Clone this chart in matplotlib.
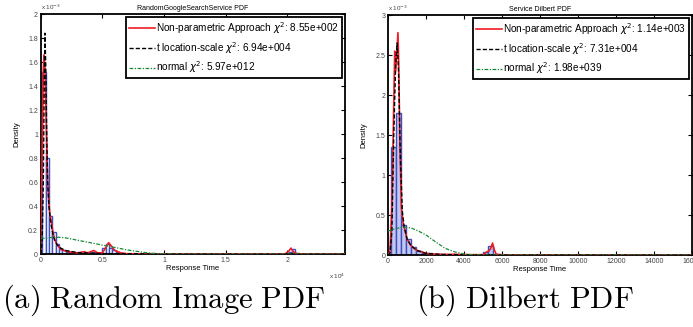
import matplotlib
matplotlib.use('Agg')
import matplotlib.pyplot as plt
from matplotlib.font_manager import FontProperties

plt.rcParams['font.family'] = ['Liberation Sans', 'DejaVu Sans']
plt.rcParams['mathtext.fontset'] = 'dejavusans'

# histogram bins: first edge and width, heights in units of 1e-3
hist_a_start = -140
hist_a_width = 270
hist_a = [0.61, 1.52, 0.80, 0.32, 0.18, 0.08, 0.045, 0.03, 0.02, 0.015,
          0.01, 0.008, 0.006, 0.01, 0.005, 0.01, 0.02, 0.01, 0.005, 0.05,
          0.08, 0.05, 0.03, 0.015, 0.005, 0.0, 0.0, 0.0, 0.0, 0.0,
          0.0, 0.0, 0.0, 0.0, 0.0, 0.0, 0.0, 0.0, 0.0, 0.0,
          0.0, 0.0, 0.0, 0.0, 0.0, 0.0, 0.0, 0.0, 0.0, 0.0,
          0.0, 0.0, 0.0, 0.0, 0.0, 0.0, 0.0, 0.0, 0.0, 0.0,
          0.0, 0.0, 0.0, 0.0, 0.0, 0.0, 0.0, 0.0, 0.0, 0.0,
          0.0, 0.0, 0.0, 0.0, 0.0, 0.02, 0.04, 0.01, 0.0, 0.0,
          0.0, 0.0, 0.0, 0.0, 0.0, 0.0, 0.0, 0.0, 0.0, 0.0,
          0.0, 0.0, 0.0]

# non-parametric (kde) curve, panel a
kde_a_x = [0, 60, 130, 200, 260, 330, 400, 480, 560, 650, 750, 850, 950, 1100,
           1300, 1600, 2000, 2500, 3000, 3500, 3800, 4300, 4600, 5000, 5300,
           5500, 5700, 6000, 6500, 7000, 10000, 19800, 20100, 20300, 20500,
           20800, 24700]
kde_a_y = [0, 0.5, 1.1, 1.55, 1.66, 1.55, 1.25, 0.9, 0.6, 0.42, 0.32, 0.27, 0.2,
           0.13, 0.08, 0.04, 0.025, 0.015, 0.01, 0.02, 0.01, 0.03, 0.01, 0.01,
           0.06, 0.095, 0.07, 0.03, 0.01, 0.003, 0.002, 0.002, 0.02, 0.05,
           0.02, 0.002, 0.001]

# t location-scale fit, panel a
tls_a_x = [0, 100, 200, 270, 330, 400, 470, 550, 650, 750, 900, 1100, 1300,
           1600, 2000, 3000, 5000, 10000, 24700]
tls_a_y = [0, 0.1, 0.6, 1.4, 1.84, 1.55, 1.0, 0.6, 0.4, 0.3, 0.2, 0.12, 0.08,
           0.05, 0.03, 0.012, 0.004, 0.001, 0]

# normal fit, panel a
norm_a_x = [0, 500, 1000, 1500, 2000, 2500, 3000, 3500, 4000, 4500, 5000, 5500,
            6000, 6500, 7000, 7500, 8000, 8500, 9000, 9500, 10000, 11000, 24700]
norm_a_y = [0.13, 0.135, 0.14, 0.14, 0.135, 0.125, 0.115, 0.105, 0.095, 0.085,
            0.075, 0.065, 0.055, 0.045, 0.035, 0.027, 0.02, 0.012, 0.007, 0.004,
            0.002, 0, 0]

hist_b_start = 140
hist_b_width = 270
hist_b = [1.35, 1.78, 0.37, 0.20, 0.10, 0.05, 0.03, 0.02, 0.015, 0.01,
          0.008, 0.006, 0.005, 0.005, 0.003, 0.002, 0.002, 0.002, 0.04, 0.11,
          0.01, 0.0, 0.0, 0.0, 0.0, 0.0, 0.0, 0.0, 0.0, 0.0,
          0.0, 0.0, 0.0, 0.0, 0.0, 0.0, 0.0, 0.0, 0.0, 0.0,
          0.0, 0.0, 0.0, 0.0, 0.0, 0.0, 0.0, 0.0, 0.0, 0.0,
          0.0, 0.0, 0.0, 0.0, 0.0, 0.0, 0.0, 0.0, 0.0]

kde_b_x = [0, 100, 200, 300, 350, 400, 450, 520, 560, 620, 700, 800, 900, 1000,
           1200, 1500, 2000, 2500, 3000, 3500, 4000, 5000, 5200, 5300, 5400,
           5500, 5600, 5700, 6000, 8000, 16000]
kde_b_y = [0, 0.05, 0.6, 1.9, 2.55, 2.3, 2.5, 2.78, 2.4, 1.4, 0.6, 0.38, 0.3,
           0.2, 0.12, 0.06, 0.02, 0.01, 0.008, 0.01, 0.005, 0.005, 0.04, 0.05,
           0.08, 0.15, 0.06, 0.01, 0.003, 0.002, 0]

tls_b_x = [0, 100, 200, 300, 400, 480, 550, 650, 750, 850, 1000, 1200, 1500,
           2000, 3000, 5000, 16000]
tls_b_y = [0, 0.02, 0.3, 1.5, 2.4, 2.65, 2.3, 1.2, 0.55, 0.35, 0.2, 0.12, 0.06,
           0.02, 0.005, 0.001, 0]

norm_b_x = [0, 400, 800, 1200, 1600, 2000, 2500, 3000, 3500, 4000, 4500, 5000,
            16000]
norm_b_y = [0.3, 0.33, 0.35, 0.34, 0.3, 0.25, 0.165, 0.085, 0.04, 0.012, 0.003,
            0, 0]

chi_a = ['8.55e+002', '6.94e+004', '5.97e+012']
chi_b = ['1.14e+003', '7.31e+004', '1.98e+039']


def panel(ax, start, width, heights, face, kde, tls, norm, chis, title):
    lefts = [start + i * width for i in range(len(heights))]
    ax.bar(lefts, heights, width=width, align='edge', color=face,
           edgecolor='#3d4fbf', linewidth=1.0, zorder=2)
    names = ['Non-parametric Approach', 't location-scale', 'normal']
    ax.plot(kde[0], kde[1], color='#ee1c24', lw=1.2, zorder=3,
            label=names[0] + r' $\chi^2$: ' + chis[0])
    ax.plot(tls[0], tls[1], color='black', lw=1.0, ls=(0, (3, 1.5)), zorder=4,
            label=names[1] + r' $\chi^2$: ' + chis[1])
    ax.plot(norm[0], norm[1], color='#1a8a3a', lw=0.9, ls=(0, (3, 1.2, 1, 1.2)),
            zorder=4, label=names[2] + r' $\chi^2$: ' + chis[2])
    ax.set_title(title, fontsize=5, pad=3)
    ax.set_ylabel('Density', fontsize=5.5, labelpad=6)
    ax.set_xlabel('Response Time', fontsize=5.5, labelpad=1)
    ax.tick_params(direction='in', top=True, right=True, labelsize=5,
                   length=3, width=0.8, pad=2, colors='black', labelcolor='#444444')
    for s in ax.spines.values():
        s.set_linewidth(1.3)
    ax.text(0, 1.008, r'x 10$^{-3}$', transform=ax.transAxes, fontsize=4.5,
            color='#444444', va='bottom')
    leg = ax.legend(loc='upper right', fancybox=False, framealpha=1,
                    prop=FontProperties(family=['Liberation Sans', 'DejaVu Sans'],
                                        size=7.2),
                    borderaxespad=0.3, handlelength=2.6, handletextpad=0.1,
                    labelspacing=0.4, borderpad=0.3)
    leg.get_frame().set_edgecolor('black')
    leg.get_frame().set_linewidth(1.3)


fig = plt.figure(figsize=(6.93, 3.27), dpi=100)
ax1 = fig.add_axes([0.059, 0.223, 0.439, 0.734])
ax2 = fig.add_axes([0.560, 0.220, 0.4385, 0.734])

panel(ax1, hist_a_start, hist_a_width, hist_a, 'white',
      (kde_a_x, kde_a_y), (tls_a_x, tls_a_y), (norm_a_x, norm_a_y), chi_a,
      'RandomGoogleSearchService PDF')
ax1.set_xlim(0, 24700)
ax1.set_ylim(0, 2)
ax1.set_xticks([0, 5000, 10000, 15000, 20000])
ax1.set_xticklabels(['0', '0.5', '1', '1.5', '2'])
ax1.set_yticks([0, 0.2, 0.4, 0.6, 0.8, 1, 1.2, 1.4, 1.6, 1.8, 2])
ax1.set_yticklabels(['0', '0.2', '0.4', '0.6', '0.8', '1', '1.2', '1.4', '1.6', '1.8', '2'])
ax1.text(1.0, -0.075, r'x 10$^4$', transform=ax1.transAxes, fontsize=4.5,
         color='#444444', ha='right', va='top')

panel(ax2, hist_b_start, hist_b_width, hist_b, '#c3c7ef',
      (kde_b_x, kde_b_y), (tls_b_x, tls_b_y), (norm_b_x, norm_b_y), chi_b,
      'Service Dilbert PDF')
ax2.set_xlim(0, 16000)
ax2.set_ylim(0, 3)
ax2.set_xticks(range(0, 16001, 2000))
ax2.set_yticks([0, 0.5, 1, 1.5, 2, 2.5, 3])
ax2.set_yticklabels(['0', '0.5', '1', '1.5', '2', '2.5', '3'])

fig.text(0.237, 0.083, r'$\mathrm{(a)\ Random\ Image\ PDF}$', fontsize=22,
         ha='center', va='center', math_fontfamily='cm')
fig.text(0.758, 0.083, r'$\mathrm{(b)\ Dilbert\ PDF}$', fontsize=22,
         ha='center', va='center', math_fontfamily='cm')

fig.savefig('out.png', dpi=100)
